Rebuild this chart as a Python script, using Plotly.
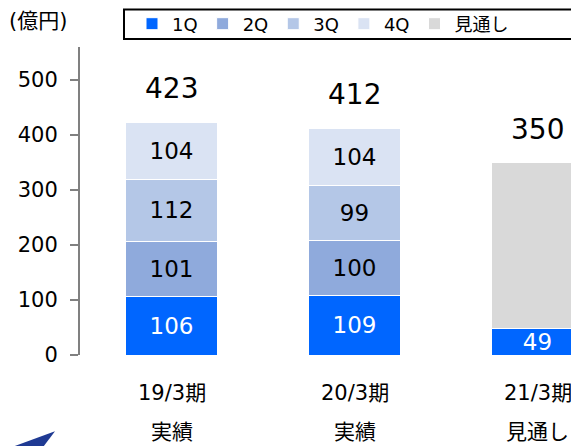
import plotly.graph_objects as go

categories = ["19/3期", "20/3期", "21/3期"]
sublabels = ["実績", "実績", "見通し"]
q1 = [106, 109, 49]
q2 = [101, 100, None]
q3 = [112, 99, None]
q4 = [104, 104, None]
outlook = [None, None, 301]
totals = [423, 412, 350]
y_ticks = [0, 100, 200, 300, 400, 500]

FONT = "DejaVu Sans, Noto Sans CJK JP, sans-serif"
W, H = 579, 446
OFF = 8  # page body margin offset
# reference-pixel positions of plot area
REF_L, REF_BASE = 80, 354.7
L = REF_L - OFF
T = 39
B = H - (REF_BASE - OFF)
plot_h = H - T - B
plot_w = W - L

def py(p):  # reference pixel y -> paper y
    return (REF_BASE - p) / plot_h

def pxx(p):  # reference pixel x -> paper x
    return (p - REF_L) / plot_w

fig = go.Figure()
series = [
    ("1Q", q1, "#0066FF", "white"),
    ("2Q", q2, "#8FAADC", "black"),
    ("3Q", q3, "#B4C7E7", "black"),
    ("4Q", q4, "#DAE3F3", "black"),
]
for name, vals, col, tcol in series:
    fig.add_trace(go.Bar(
        name=name, x=categories, y=vals,
        marker=dict(color=col, line=dict(color="white", width=1)),
        text=[str(v) if v is not None else "" for v in vals],
        textposition="inside", insidetextanchor="middle",
        textfont=dict(size=23, color=tcol, family=FONT),
        constraintext="none",
    ))
fig.add_trace(go.Bar(
    name="見通し", x=categories, y=outlook,
    marker=dict(color="#D9D9D9", line=dict(color="white", width=1)),
    textposition="none",
))

for c, t in zip(categories, totals):
    fig.add_annotation(x=c, y=t, text=str(t), showarrow=False, yanchor="bottom",
                       yshift=15, font=dict(size=28, color="black", family=FONT))

for c, s in zip(categories, sublabels):
    fig.add_annotation(x=c, y=py(393), yref="paper", text=c, showarrow=False,
                       yanchor="middle", font=dict(size=21, color="black", family=FONT))
    fig.add_annotation(x=c, y=py(432), yref="paper", text=s, showarrow=False,
                       yanchor="middle", font=dict(size=21, color="black", family=FONT))

fig.add_annotation(x=pxx(7), y=py(21), xref="paper", yref="paper", text="(億円)",
                   showarrow=False, xanchor="left", yanchor="middle",
                   font=dict(size=21, color="black", family=FONT))

# legend frame
fig.add_shape(type="rect", xref="paper", yref="paper",
              x0=pxx(124), x1=pxx(640), y0=py(39), y1=py(9.5),
              line=dict(color="black", width=2), fillcolor="rgba(0,0,0,0)")

# logo fragment
fig.add_shape(type="path", xref="paper", yref="paper",
              path=f"M {pxx(8)},{py(448)} L {pxx(55)},{py(431)} L {pxx(42)},{py(448)} Z",
              line=dict(width=0), fillcolor="#1F3A93")

fig.update_layout(
    width=W, height=H,
    margin=dict(l=L, r=0, t=T, b=B, autoexpand=False),
    barmode="stack", bargap=0.5,
    plot_bgcolor="white", paper_bgcolor="white",
    font=dict(family=FONT, color="black"),
    showlegend=True,
    legend=dict(orientation="h", x=pxx(132), y=py(24), xanchor="left", yanchor="middle",
                font=dict(size=18, family=FONT, color="black"),
                bgcolor="rgba(0,0,0,0)", borderwidth=0,
                traceorder="normal", itemclick=False, tracegroupgap=0),
    xaxis=dict(type="category", range=[-0.5, -0.5 + plot_w / 183.0],
               showticklabels=False, showline=False, ticks="", showgrid=False, fixedrange=True),
    yaxis=dict(range=[0, (REF_BASE - OFF - T) / 0.5494], tickvals=y_ticks,
               showgrid=False, zeroline=False,
               showline=True, linecolor="#808080", linewidth=2,
               ticks="outside", ticklen=8, tickwidth=2, tickcolor="#808080",
               tickfont=dict(size=21, color="black", family=FONT),
               ticklabelstandoff=8),
)

fig.write_html("out.html")
